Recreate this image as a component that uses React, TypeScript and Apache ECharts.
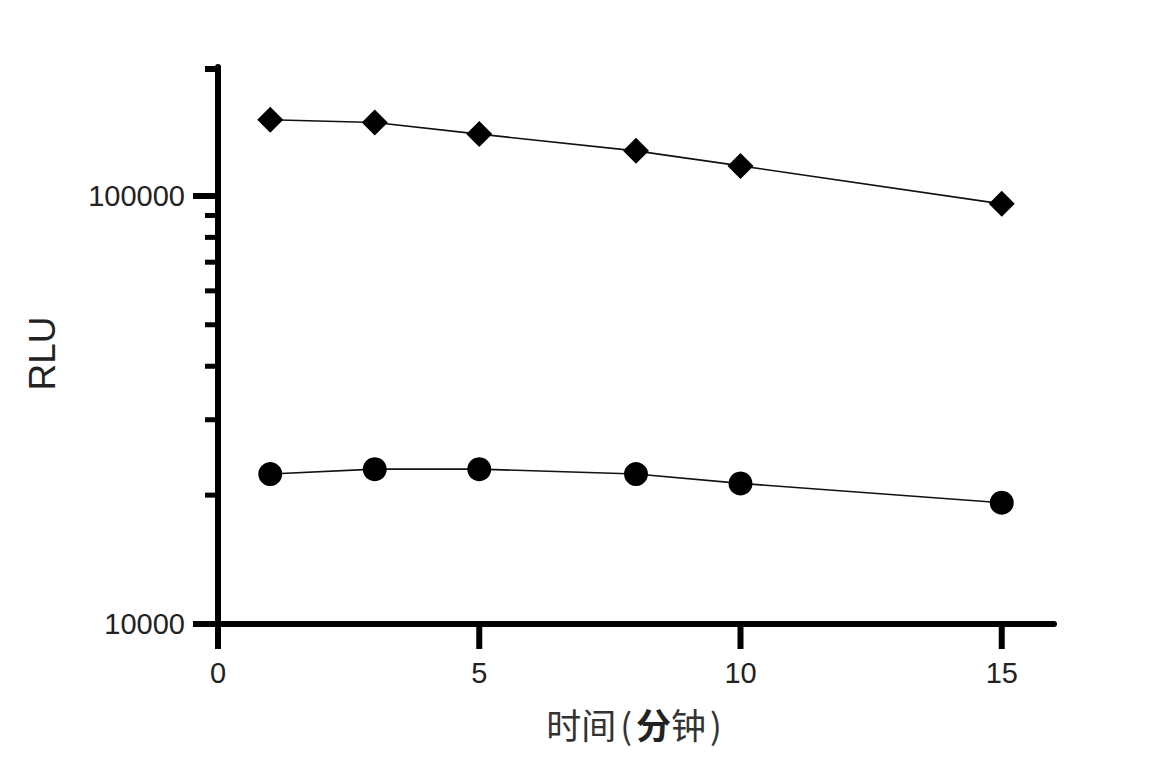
import { useEffect, useRef } from 'react';
import * as echarts from 'echarts';

// time points (minutes)
const times = [1, 3, 5, 8, 10, 15];
// RLU, diamond series (upper)
const diamondValues = [150600, 148400, 139400, 127400, 117500, 95800];
// RLU, circle series (lower)
const circleValues = [22400, 23000, 23000, 22400, 21300, 19200];

const xTicks = [0, 5, 10, 15];
const yMinorTicks = [20000, 30000, 40000, 50000, 60000, 70000, 80000, 90000, 200000];
const yLabels = [10000, 100000];

const AXIS = '#000';
const TEXT = '#222';
const LATIN = '"Liberation Sans", Arial, sans-serif';
const CJK = '"Noto Sans CJK SC", sans-serif';

export default function App() {
  const chartRef = useRef<HTMLDivElement>(null);

  useEffect(() => {
    if (!chartRef.current) return;
    const chart = echarts.init(chartRef.current, null, { renderer: 'svg' });

    const option: echarts.EChartsOption = {
      animation: false,
      backgroundColor: '#fff',
      grid: { left: 218, right: 117, top: 67, bottom: 157 },
      xAxis: {
        type: 'value',
        min: 0,
        max: 16,
        interval: 5,
        splitLine: { show: false },
        axisLine: { lineStyle: { color: AXIS, width: 6 } },
        axisTick: { show: false },
        axisLabel: {
          margin: 34,
          fontSize: 29,
          color: TEXT,
          fontFamily: LATIN,
          showMaxLabel: false,
          formatter: (v: number) => (xTicks.includes(v) ? String(v) : ''),
        },
        name: '时间{p|(}{b|分}钟{p|)}',
        nameLocation: 'middle',
        nameGap: 82,
        nameTextStyle: {
          fontSize: 35,
          color: '#333',
          fontFamily: CJK,
          rich: {
            p: { fontSize: 35, color: '#333', fontFamily: CJK, padding: [0, 4, 0, 4] },
            b: { fontSize: 35, fontWeight: 'bold', color: '#222', fontFamily: CJK },
          },
        },
      },
      yAxis: {
        type: 'log',
        logBase: 10,
        min: 10000,
        max: 200000,
        splitLine: { show: false },
        axisLine: { lineStyle: { color: AXIS, width: 6 } },
        axisTick: { length: 25, lineStyle: { color: AXIS, width: 6 } },
        minorTick: { show: false },
        axisLabel: {
          margin: 33,
          fontSize: 29,
          color: TEXT,
          fontFamily: LATIN,
          showMaxLabel: false,
          formatter: (v: number) => {
            const r = Math.round(v);
            return yLabels.includes(r) ? String(r) : '';
          },
        },
        name: 'RLU',
        nameLocation: 'middle',
        nameRotate: 90,
        nameGap: 157,
        nameTextStyle: { fontSize: 37, color: TEXT, fontFamily: LATIN, padding: [0, 16, 0, 0] },
      },
      series: [
        {
          name: 'upper',
          type: 'line',
          data: times.map((t, i) => [t, diamondValues[i]]),
          symbol: 'diamond',
          symbolSize: 26,
          itemStyle: { color: '#000' },
          lineStyle: { color: '#111', width: 1.6 },
          z: 3,
        },
        {
          name: 'lower',
          type: 'line',
          data: times.map((t, i) => [t, circleValues[i]]),
          symbol: 'circle',
          symbolSize: 24,
          itemStyle: { color: '#000' },
          lineStyle: { color: '#111', width: 1.6 },
          z: 3,
        },
        {
          // y minor ticks (log positions) and the short tick at the axis top
          type: 'custom',
          silent: true,
          data: yMinorTicks.map((v) => [0, v]),
          renderItem: (params: any, api: any) => {
            const p = api.coord([api.value(0), api.value(1)]);
            const top = api.value(1) === 200000;
            return {
              type: 'line',
              shape: { x1: p[0] - 13, y1: p[1] + (top ? 2 : 0), x2: p[0] + (top ? 3 : 0), y2: p[1] + (top ? 2 : 0) },
              style: { stroke: AXIS, lineWidth: top ? 6 : 5 },
            };
          },
          z: 2,
        },
        {
          // x major ticks
          type: 'custom',
          silent: true,
          data: xTicks.map((v) => [v, 10000]),
          renderItem: (params: any, api: any) => {
            const p = api.coord([api.value(0), api.value(1)]);
            return {
              type: 'line',
              shape: { x1: p[0], y1: p[1], x2: p[0], y2: p[1] + 25 },
              style: { stroke: AXIS, lineWidth: 6 },
            };
          },
          z: 2,
        },
      ],
    };

    chart.setOption(option);
    return () => {
      chart.dispose();
    };
  }, []);

  return (
    <div
      ref={chartRef}
      style={{ position: 'fixed', left: 0, top: 0, width: 1171, height: 781, background: '#fff' }}
    />
  );
}
